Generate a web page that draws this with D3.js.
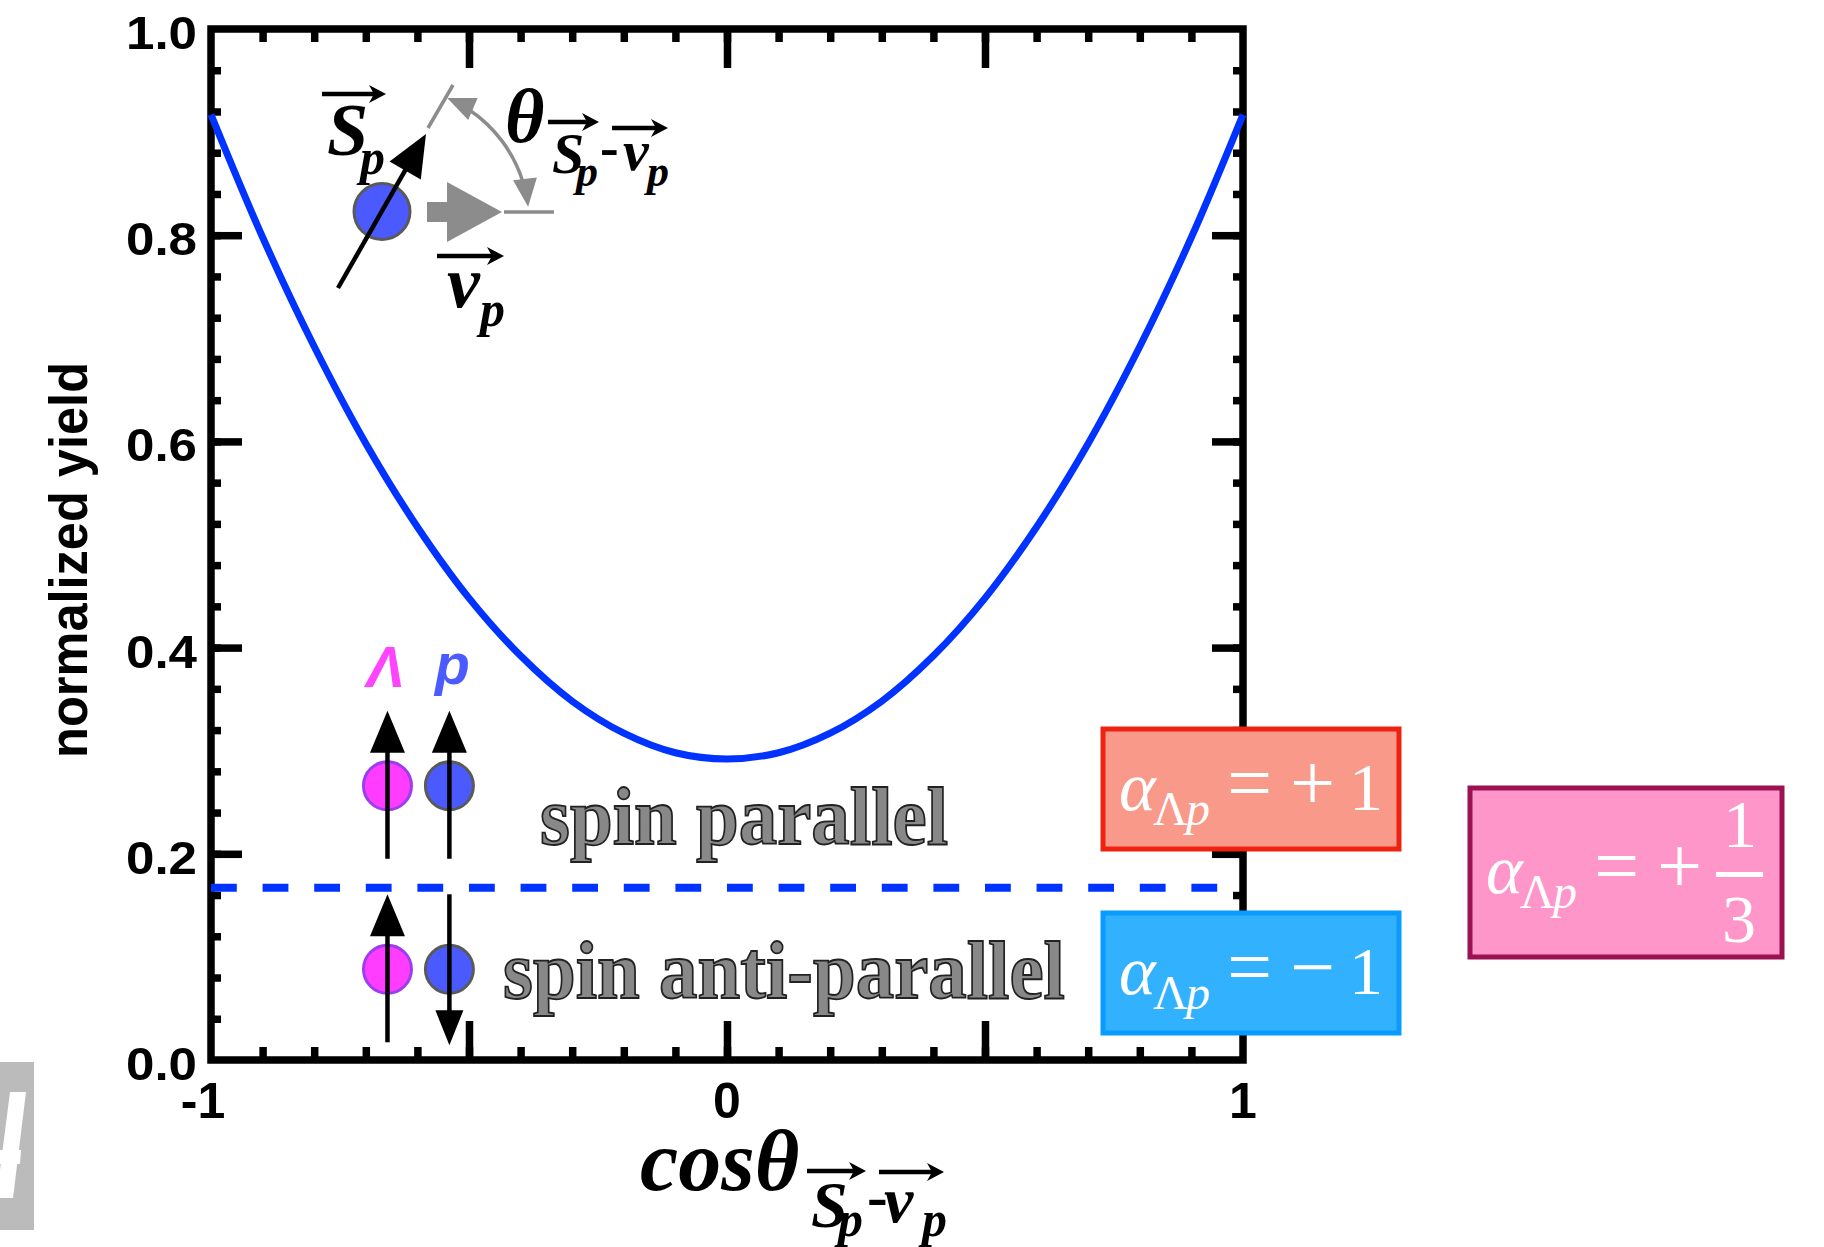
<!DOCTYPE html>
<html>
<head>
<meta charset="utf-8">
<script src="https://cdn.jsdelivr.net/npm/d3@7"></script>
<style>
  body { margin: 0; background: #fff; }
  svg { display: block; }
</style>
</head>
<body>
<script>
// values: cos(theta) vs normalized yield
var cosTheta = [-1, -0.9, -0.8, -0.7, -0.6, -0.5, -0.4, -0.3, -0.2, -0.1, 0,
                0.1, 0.2, 0.3, 0.4, 0.5, 0.6, 0.7, 0.8, 0.9, 1];
var yieldValues = [0.917, 0.798, 0.692, 0.598, 0.517, 0.448, 0.392, 0.348, 0.317, 0.298, 0.292,
                   0.298, 0.317, 0.348, 0.392, 0.448, 0.517, 0.598, 0.692, 0.798, 0.917];
var splitLevel = [0.167];

var xTickValues = [-1, 0, 1];
var xTickLabels = ["-1", "0", "1"];
var yTickValues = [0, 0.2, 0.4, 0.6, 0.8, 1.0];
var yTickLabels = ["0.0", "0.2", "0.4", "0.6", "0.8", "1.0"];

// spin pictograms (cos position, yield position, direction of the spin)
var lambdaSpin = [0.266, 0.088];
var protonSpin = [0.266, 0.088];
var lambdaDir = ["up", "up"];
var protonDir = ["up", "down"];
var pictoX = [-0.658, -0.538];

var serif = "'Liberation Serif', 'Times New Roman', serif";
var sans = "'Liberation Sans', Arial, Helvetica, sans-serif";

var margin = {top: 29, right: 581, bottom: 187, left: 211},
    width = 1824 - margin.left - margin.right,
    height = 1247 - margin.top - margin.bottom;

var svg = d3.select("body").append("svg")
    .attr("width", 1824)
    .attr("height", 1247);

var x = d3.scaleLinear().domain([-1, 1]).range([margin.left, margin.left + width]);
var y = d3.scaleLinear().domain([0, 1]).range([margin.top + height, margin.top]);

// ---------- helpers ----------
function txt(g, px, py, s, size, family, weight, style, fill, anchor) {
    return g.append("text")
        .attr("x", px).attr("y", py)
        .attr("font-family", family)
        .attr("font-size", size + "px")
        .attr("font-weight", weight || "normal")
        .attr("font-style", style || "normal")
        .attr("fill", fill || "#000")
        .attr("text-anchor", anchor || "start")
        .text(s);
}

function head(g, tx, ty, ux, uy, len, w, color) {
    var bx = tx - ux * len, by = ty - uy * len;
    g.append("path")
        .attr("d", "M" + tx + "," + ty +
            "L" + (bx - uy * w / 2) + "," + (by + ux * w / 2) +
            "L" + (bx + uy * w / 2) + "," + (by - ux * w / 2) + "Z")
        .attr("fill", color);
}

function arrow(g, x1, y1, x2, y2, len, w, color, lw) {
    var dx = x2 - x1, dy = y2 - y1, L = Math.sqrt(dx * dx + dy * dy);
    var ux = dx / L, uy = dy / L;
    g.append("line")
        .attr("x1", x1).attr("y1", y1)
        .attr("x2", x2 - ux * (len - 2)).attr("y2", y2 - uy * (len - 2))
        .attr("stroke", color).attr("stroke-width", lw);
    head(g, x2, y2, ux, uy, len, w, color);
}

// vector arrow drawn over a letter
function vec(g, x1, x2, yy) {
    g.append("line")
        .attr("x1", x1).attr("y1", yy).attr("x2", x2 - 6).attr("y2", yy)
        .attr("stroke", "#000").attr("stroke-width", 4.5);
    g.append("path")
        .attr("d", "M" + x2 + "," + yy + "L" + (x2 - 17) + "," + (yy - 9) +
            "L" + (x2 - 12) + "," + yy + "L" + (x2 - 17) + "," + (yy + 9) + "Z")
        .attr("fill", "#000");
}

// ---------- frame and ticks ----------
svg.append("rect")
    .attr("x", x(-1)).attr("y", y(1))
    .attr("width", x(1) - x(-1)).attr("height", y(0) - y(1))
    .attr("fill", "none").attr("stroke", "#000").attr("stroke-width", 7.5);

function ticks(axis, tr, values, size) {
    var g = svg.append("g").attr("transform", tr)
        .call(axis.tickValues(values).tickSize(size).tickFormat(""));
    g.select(".domain").remove();
    g.selectAll("line").attr("stroke", "#000").attr("stroke-width", 7.5);
}

var xMinor = d3.range(-9, 10).map(function(i) { return i / 10; });
var xMajor = [-0.5, 0, 0.5];
var yMinor = d3.range(1, 25).map(function(i) { return i / 25; });
var yMajor = [0.2, 0.4, 0.6, 0.8];

ticks(d3.axisBottom(x), "translate(0," + y(0) + ")", xMinor, -13);
ticks(d3.axisBottom(x), "translate(0," + y(0) + ")", xMajor, -39);
ticks(d3.axisTop(x), "translate(0," + y(1) + ")", xMinor, -13);
ticks(d3.axisTop(x), "translate(0," + y(1) + ")", xMajor, -39);
ticks(d3.axisLeft(y), "translate(" + x(-1) + ",0)", yMinor, -10);
ticks(d3.axisLeft(y), "translate(" + x(-1) + ",0)", yMajor, -31);
ticks(d3.axisRight(y), "translate(" + x(1) + ",0)", yMinor, -10);
ticks(d3.axisRight(y), "translate(" + x(1) + ",0)", yMajor, -31);

// tick labels
svg.append("g").selectAll("text")
    .data(yTickValues)
    .enter()
    .append("text")
    .attr("x", x(-1) - 14)
    .attr("y", function(d) { return y(d) + 20; })
    .attr("text-anchor", "end")
    .attr("font-family", sans)
    .attr("font-weight", "bold")
    .attr("font-size", "47px")
    .attr("textLength", 71)
    .attr("lengthAdjust", "spacingAndGlyphs")
    .text(function(d, i) { return yTickLabels[i]; });

svg.append("g").selectAll("text")
    .data(xTickValues)
    .enter()
    .append("text")
    .attr("x", function(d) { return x(d) + (d < 0 ? -8 : 0); })
    .attr("y", y(0) + 58)
    .attr("text-anchor", "middle")
    .attr("font-family", sans)
    .attr("font-weight", "bold")
    .attr("font-size", "50px")
    .text(function(d, i) { return xTickLabels[i]; });

// y axis title
svg.append("text")
    .attr("transform", "translate(87," + (y(0.485)) + ") rotate(-90)")
    .attr("text-anchor", "middle")
    .attr("font-family", sans)
    .attr("font-weight", "bold")
    .attr("font-size", "54px")
    .attr("textLength", 396)
    .attr("lengthAdjust", "spacingAndGlyphs")
    .text("normalized yield");

// x axis title: cos theta with vector subscript
var xt = svg.append("g");
txt(xt, 640, 1190, "cosθ", 86, serif, "bold", "italic");
vec(xt, 807, 866, 1171);
vec(xt, 879, 944, 1172);
txt(xt, 811, 1227, "S", 66, serif, "bold", "italic");
txt(xt, 838, 1236, "p", 50, serif, "bold", "italic");
txt(xt, 867, 1217, "-", 62, serif, "bold", "normal");
txt(xt, 884, 1222, "v", 66, serif, "bold", "italic");
txt(xt, 922, 1236, "p", 50, serif, "bold", "italic");

// ---------- curve and separator ----------
var line = d3.line()
    .x(function(d) { return x(d[0]); })
    .y(function(d) { return y(d[1]); })
    .curve(d3.curveCatmullRom);

svg.append("path")
    .datum(d3.zip(cosTheta, yieldValues))
    .attr("d", line)
    .attr("fill", "none")
    .attr("stroke", "#0033ff")
    .attr("stroke-width", 7);

var dashLen = x(0.05) - x(0);
svg.append("g").selectAll("line")
    .data(splitLevel)
    .enter()
    .append("line")
    .attr("x1", x(-1)).attr("x2", x(1))
    .attr("y1", function(d) { return y(d); })
    .attr("y2", function(d) { return y(d); })
    .attr("stroke", "#0033ff")
    .attr("stroke-width", 8)
    .attr("stroke-dasharray", dashLen + "," + dashLen);

// ---------- spin pictograms ----------
var picto = svg.append("g");
txt(picto, x(pictoX[0]) - 2, 687, "Λ", 57, sans, "bold", "italic", "#ff44ff", "middle");
txt(picto, x(pictoX[1]) + 3, 684, "p", 57, sans, "bold", "italic", "#4b5bff", "middle");

[0, 1].forEach(function(k) {
    var cy = y(lambdaSpin[k]);
    var lx = x(pictoX[0]), px = x(pictoX[1]);
    picto.append("circle").attr("cx", lx).attr("cy", cy).attr("r", 24)
        .attr("fill", "#ff3cff").attr("stroke", "#9a3ef0").attr("stroke-width", 3);
    picto.append("circle").attr("cx", px).attr("cy", y(protonSpin[k])).attr("r", 24)
        .attr("fill", "#4a5aff").attr("stroke", "#5a5a5a").attr("stroke-width", 3);
    var top = cy - 75, bot = cy + 73;
    if (lambdaDir[k] == "up") arrow(picto, lx, bot, lx, top, 42, 35, "#000", 4.5);
    if (protonDir[k] == "up") arrow(picto, px, bot, px, top, 42, 35, "#000", 4.5);
    else arrow(picto, px, top, px, bot + 3, 35, 28, "#000", 4.5);
});

// gray captions
function caption(s, px, py, len) {
    svg.append("text")
        .attr("x", px).attr("y", py)
        .attr("font-family", serif)
        .attr("font-weight", "bold")
        .attr("font-size", "82px")
        .attr("fill", "#888888")
        .attr("stroke", "#222222")
        .attr("stroke-width", 1.8)
        .attr("textLength", len)
        .attr("lengthAdjust", "spacingAndGlyphs")
        .text(s);
}
caption("spin parallel", 540, 844, 408);
caption("spin anti-parallel", 503, 998, 562);

// ---------- inset: spin and velocity ----------
var inset = svg.append("g");
inset.append("circle").attr("cx", 382).attr("cy", 211.5).attr("r", 28)
    .attr("fill", "#4a5aff").attr("stroke", "#5a5a5a").attr("stroke-width", 3);
arrow(inset, 338, 288, 426, 134, 42, 36, "#000", 4.5);
inset.append("line").attr("x1", 428).attr("y1", 128).attr("x2", 453).attr("y2", 85)
    .attr("stroke", "#8c8c8c").attr("stroke-width", 3.5);
inset.append("line").attr("x1", 504).attr("y1", 212).attr("x2", 554).attr("y2", 212)
    .attr("stroke", "#8c8c8c").attr("stroke-width", 3.5);
// thick gray velocity arrow
inset.append("path")
    .attr("d", "M427,202L447,202L447,182L502,212L447,242L447,222L427,222Z")
    .attr("fill", "#8c8c8c");
// curved double arrow for the angle
var ac = [394, 222], ar = 135;
var aA = -66.8 * Math.PI / 180, aC = -6.5 * Math.PI / 180, cut = 24 / ar;
var arcPath = d3.path();
arcPath.arc(ac[0], ac[1], ar, aA + cut, aC - cut);
inset.append("path").attr("d", arcPath.toString())
    .attr("fill", "none").attr("stroke", "#8c8c8c").attr("stroke-width", 3.5);
head(inset, ac[0] + ar * Math.cos(aA), ac[1] + ar * Math.sin(aA),
    Math.sin(aA), -Math.cos(aA), 28, 24, "#8c8c8c");
head(inset, ac[0] + ar * Math.cos(aC), ac[1] + ar * Math.sin(aC),
    -Math.sin(aC), Math.cos(aC), 28, 24, "#8c8c8c");

// S_p label
vec(inset, 322, 386, 94);
txt(inset, 327, 155, "S", 74, serif, "bold", "italic");
txt(inset, 360, 174, "p", 50, serif, "bold", "italic");
// v_p label
vec(inset, 437, 504, 256);
txt(inset, 447, 307, "v", 74, serif, "bold", "italic");
txt(inset, 480, 326, "p", 50, serif, "bold", "italic");
// theta label
txt(inset, 505, 142, "θ", 76, serif, "bold", "italic");
vec(inset, 548, 599, 122);
vec(inset, 612, 668, 128);
txt(inset, 552, 173, "S", 58, serif, "bold", "italic");
txt(inset, 576, 186, "p", 44, serif, "bold", "italic");
txt(inset, 600, 166, "-", 56, serif, "bold", "normal");
txt(inset, 623, 170, "v", 58, serif, "bold", "italic");
txt(inset, 647, 186, "p", 44, serif, "bold", "italic");

// ---------- alpha boxes ----------
function alphaBox(bx, by, bw, bh, fill, stroke) {
    var g = svg.append("g");
    g.append("rect")
        .attr("x", bx).attr("y", by).attr("width", bw).attr("height", bh)
        .attr("fill", fill).attr("stroke", stroke).attr("stroke-width", 5);
    return g;
}
function alphaText(g, ox, base, sign, one) {
    txt(g, ox, base, "α", 70, serif, "normal", "italic", "#fff");
    txt(g, ox + 34, base + 15, "Λ", 48, serif, "normal", "normal", "#fff");
    txt(g, ox + 67, base + 15, "p", 48, serif, "normal", "italic", "#fff");
    txt(g, ox + 108, base, "=", 80, serif, "normal", "normal", "#fff");
    txt(g, ox + 171, base, sign, 80, serif, "normal", "normal", "#fff");
    if (one) txt(g, ox + 230, base, "1", 68, serif, "normal", "normal", "#fff");
}

var redBox = alphaBox(1103, 729, 296, 120, "#f8998a", "#ee2211");
alphaText(redBox, 1119, 810, "+", true);
var blueBox = alphaBox(1103, 913, 296, 120, "#31b1fe", "#0a9bff");
alphaText(blueBox, 1119, 994, "−", true);
var pinkBox = alphaBox(1470, 788, 312, 169, "#ff96c9", "#9b1152");
alphaText(pinkBox, 1486, 893, "+", false);
pinkBox.append("line").attr("x1", 1716).attr("x2", 1763).attr("y1", 874.5).attr("y2", 874.5)
    .attr("stroke", "#fff").attr("stroke-width", 5);
txt(pinkBox, 1740, 847, "1", 68, serif, "normal", "normal", "#fff", "middle");
txt(pinkBox, 1739, 942, "3", 68, serif, "normal", "normal", "#fff", "middle");

// ---------- cut-off gray block at the lower left ----------
var corner = svg.append("g");
corner.append("rect").attr("x", 0).attr("y", 1062).attr("width", 34).attr("height", 168)
    .attr("fill", "#bbbbbb");
corner.append("path").attr("d", "M10,1092L26,1092L13,1198L0,1198L0,1170Z").attr("fill", "#fff");
corner.append("path").attr("d", "M0,1150L21,1150L20,1164L0,1164Z").attr("fill", "#fff");
</script>
</body>
</html>
